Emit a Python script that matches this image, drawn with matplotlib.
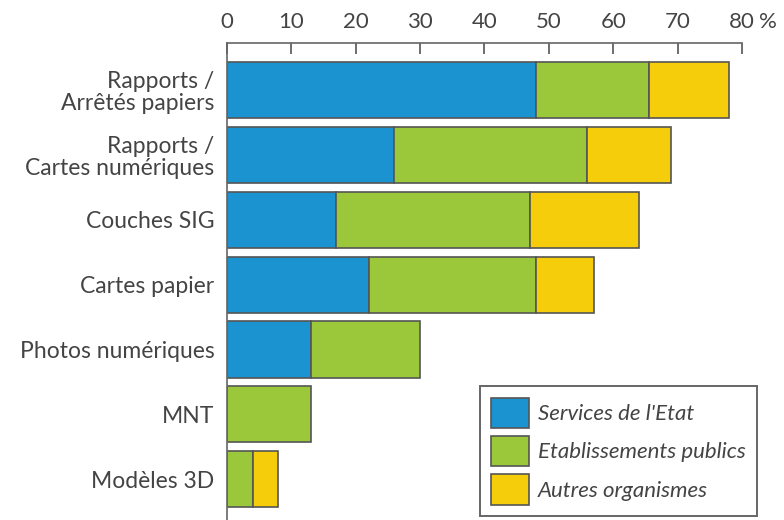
import matplotlib.pyplot as plt
import numpy as np

plt.rcParams['font.family'] = ['Lato', 'DejaVu Sans']

# categories (top to bottom) and values in %
categories = ["Rapports /\nArrêtés papiers", "Rapports /\nCartes numériques", "Couches SIG",
              "Cartes papier", "Photos numériques", "MNT", "Modèles 3D"]
services_etat = [48, 26, 17, 22, 13, 0, 0]
etablissements = [17.5, 30, 30, 26, 17, 13, 4]
autres = [12.5, 13, 17, 9, 0, 0, 4]
series_names = ["Services de l'Etat", "Etablissements publics", "Autres organismes"]
colors = ['#1b93d1', '#9bc83a', '#f6cd0b']
xticks = [0, 10, 20, 30, 40, 50, 60, 70, 80]
xticklabels = ['0', '10', '20', '30', '40', '50', '60', '70', '80']

fig = plt.figure(figsize=(7.84, 5.2), dpi=100)
ax = fig.add_axes([0.2895, 0.0, 0.9464 - 0.2895, 0.917])

y = np.arange(len(categories))
left = np.zeros(len(categories))
handles = []
for vals, name, c in zip([services_etat, etablissements, autres], series_names, colors):
    vals = np.array(vals, dtype=float)
    mask = vals > 0
    b = ax.barh(y[mask], vals[mask], left=left[mask], height=0.865, color=c,
                edgecolor='#555555', linewidth=1.2, label=name)
    handles.append(b)
    left += vals

ax.set_xlim(0, 80)
ax.set_ylim(6.63, -0.725)
ax.set_yticks(y)
ax.set_yticklabels(categories, fontsize=16.5, color='#444444', linespacing=1.05)
ax.tick_params(axis='y', length=0, pad=9)

ax.xaxis.tick_top()
ax.set_xticks(xticks)
ax.set_xticklabels(xticklabels, fontsize=16, color='#444444')
ax.tick_params(axis='x', direction='in', length=8, width=1.2, color='#555555', pad=8)

for s in ['right', 'bottom']:
    ax.spines[s].set_visible(False)
for s in ['top', 'left']:
    ax.spines[s].set_color('#666666')
    ax.spines[s].set_linewidth(1.2)

leg = ax.legend(handles=handles, labels=series_names, loc='lower right',
                bbox_to_anchor=(757 / 784, 1 - 516 / 520), bbox_transform=fig.transFigure,
                borderaxespad=0, prop={'style': 'italic', 'size': 16},
                handlelength=1.73, handleheight=1.73, handletextpad=0.4,
                labelspacing=0.36, borderpad=0.5, fancybox=False, framealpha=1)
leg.get_frame().set_edgecolor('#666666')
leg.get_frame().set_linewidth(1.4)
for t in leg.get_texts():
    t.set_color('#444444')

# percent sign right after the last tick label, same baseline
fig.canvas.draw()
last = ax.xaxis.get_majorticklabels()[-1]
bb = last.get_window_extent()
lx, ly = last.get_transform().transform(last.get_position())
fig.text((bb.x1 + 4) / fig.bbox.width, bb.y0 / fig.bbox.height, '%', ha='left', va='bottom',
         fontsize=16, color='#444444')

plt.savefig('out.png', dpi=100)
